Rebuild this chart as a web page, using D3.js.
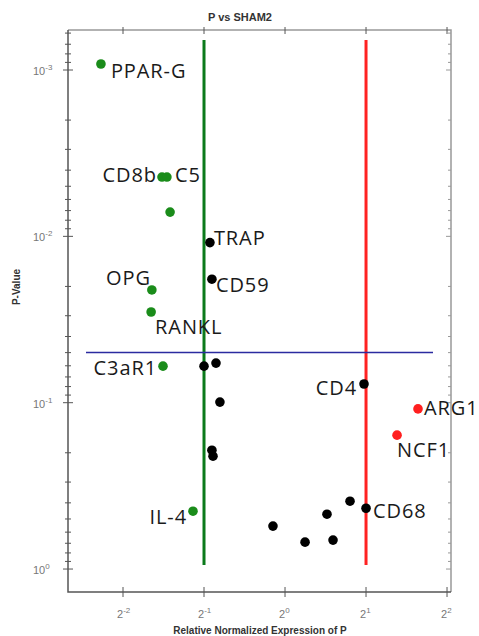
<!DOCTYPE html>
<html>
<head>
<meta charset="utf-8">
<script src="https://cdn.jsdelivr.net/npm/d3@7"></script>
<style>
  body { margin: 0; background: #fff; }
  svg { display: block; }
</style>
</head>
<body>
<svg id="chart" width="479" height="636"></svg>
<script>
// === DATA ===
const genes = ["PPAR-G", "CD8b", "C5", "", "TRAP", "CD59", "OPG", "RANKL", "C3aR1", "", "", "", "", "",
  "CD4", "ARG1", "NCF1", "", "CD68", "IL-4", "", "", "", ""];
const foldChange = [0.207, 0.349, 0.364, 0.374, 0.526, 0.535, 0.320, 0.318, 0.352, 0.500, 0.554, 0.573, 0.535, 0.540,
  1.966, 3.12, 2.608, 1.744, 2.0, 0.455, 1.432, 0.902, 1.508, 1.187];
const pValue = [0.00092, 0.0044, 0.0044, 0.00715, 0.0109, 0.0181, 0.0210, 0.0285, 0.0603, 0.0603, 0.0578, 0.0992, 0.193, 0.2095,
  0.0772, 0.109, 0.1567, 0.391, 0.431, 0.449, 0.468, 0.552, 0.670, 0.689];
const group = ["down", "down", "down", "down", "ns", "ns", "down", "down", "down", "ns", "ns", "ns", "ns", "ns",
  "ns", "up", "up", "ns", "ns", "down", "ns", "ns", "ns", "ns"];

const xTicks = [0.25, 0.5, 1, 2, 4];
const xTickExp = ["-2", "-1", "0", "1", "2"];
const yTicks = [1e-3, 1e-2, 1e-1, 1];
const yTickExp = ["-3", "-2", "-1", "0"];
const thresholds = { down: 0.5, up: 2, p: 0.05 };

// label placement next to each point (dx, dy, anchor)
const labelPos = {
  "PPAR-G": [10, 14, "start"], "CD8b": [-5, 5, "end"], "C5": [8, 5, "start"],
  "TRAP": [4, 2, "start"], "CD59": [4, 13, "start"], "OPG": [-1, -5, "end"],
  "RANKL": [4, 22, "start"], "C3aR1": [-6, 9, "end"], "CD4": [-7, 11, "end"],
  "ARG1": [6, 6, "start"], "NCF1": [0, 22, "start"], "CD68": [7, 10, "start"],
  "IL-4": [-6, 13, "end"]
};
const colors = { down: "#1a8c1a", up: "#ff1f1f", ns: "#000" };

const svg = d3.select("#chart");
const pLeft = 68, pRight = 451, pTop = 30, pBottom = 592;

const x = d3.scaleLog().base(2)
  .domain([Math.pow(2, -2.679), Math.pow(2, 2.049)])
  .range([pLeft, pRight]);
const y = d3.scaleLog()
  .domain([Math.pow(10, -3.2405), Math.pow(10, 0.138)])
  .range([pTop, pBottom]);

// title + axis titles
svg.append("text").attr("x", 240).attr("y", 21).attr("text-anchor", "middle")
  .attr("font-family", "Liberation Sans, Arial, sans-serif").attr("font-weight", "bold")
  .attr("font-size", 11).attr("fill", "#333").text("P vs SHAM2");
svg.append("text").attr("x", 260).attr("y", 634).attr("text-anchor", "middle")
  .attr("font-family", "Liberation Sans, Arial, sans-serif").attr("font-weight", "bold")
  .attr("font-size", 10).attr("fill", "#333").text("Relative Normalized Expression of P");
svg.append("text").attr("transform", "translate(20,287) rotate(-90)").attr("text-anchor", "middle")
  .attr("font-family", "Liberation Sans, Arial, sans-serif").attr("font-weight", "bold")
  .attr("font-size", 10).attr("fill", "#333").text("P-Value");

// frame
const axisCol = "#555";
svg.append("path").attr("d", `M${pLeft},${pTop}H${pRight}V${pBottom}`)
  .attr("fill", "none").attr("stroke", "#999").attr("stroke-width", 1.5);
svg.append("path").attr("d", `M${pLeft},${pTop}V${pBottom}H${pRight}`)
  .attr("fill", "none").attr("stroke", axisCol).attr("stroke-width", 1.5);

// minor y ticks
const yMinor = [];
for (let k = -4; k <= 0; k++) for (let m = 2; m <= 9; m++) {
  const v = m * Math.pow(10, k);
  if (v > y.domain()[0] && v < y.domain()[1]) yMinor.push(v);
}
const tk = svg.append("g").attr("stroke", axisCol).attr("stroke-width", 1);
tk.selectAll("line.ymin").data(yMinor).join("line").attr("class", "ymin")
  .attr("x1", pLeft - 3).attr("x2", pLeft + 3).attr("y1", d => y(d)).attr("y2", d => y(d));
tk.selectAll("line.ymaj").data(yTicks).join("line").attr("class", "ymaj")
  .attr("x1", pLeft - 5).attr("x2", pLeft + 5).attr("y1", d => y(d)).attr("y2", d => y(d));
tk.selectAll("line.ymin2").data(yMinor).join("line").attr("class", "ymin2")
  .attr("stroke", "#999").attr("x1", pRight - 3).attr("x2", pRight).attr("y1", d => y(d)).attr("y2", d => y(d));
tk.selectAll("line.ymaj2").data(yTicks).join("line").attr("class", "ymaj2")
  .attr("stroke", "#999").attr("x1", pRight - 5).attr("x2", pRight).attr("y1", d => y(d)).attr("y2", d => y(d));
tk.selectAll("line.xmaj").data(xTicks).join("line").attr("class", "xmaj")
  .attr("x1", d => x(d)).attr("x2", d => x(d)).attr("y1", pBottom - 5).attr("y2", pBottom + 5);
tk.selectAll("line.xtop").data(xTicks).join("line").attr("class", "xtop")
  .attr("x1", d => x(d)).attr("x2", d => x(d)).attr("y1", pTop - 3).attr("y2", pTop + 4);

// tick labels with superscripts
const tickFont = "Liberation Sans, Arial, sans-serif";
const yl = svg.append("g").attr("font-family", tickFont).attr("fill", "#777").attr("font-size", 11);
yTicks.forEach((v, i) => {
  const t = yl.append("text").attr("x", 33).attr("y", y(v) + 5);
  t.append("tspan").text("10");
  t.append("tspan").attr("dy", -5).attr("font-size", 8).text(yTickExp[i]);
});
const xl = svg.append("g").attr("font-family", tickFont).attr("fill", "#777").attr("font-size", 11);
xTicks.forEach((v, i) => {
  const t = xl.append("text").attr("x", x(v) - 6).attr("y", 618);
  t.append("tspan").text("2");
  t.append("tspan").attr("dy", -5).attr("font-size", 8).text(xTickExp[i]);
});

// threshold lines
svg.append("line").attr("x1", x(thresholds.down)).attr("x2", x(thresholds.down))
  .attr("y1", 40).attr("y2", 565).attr("stroke", "#0b7a1b").attr("stroke-width", 3);
svg.append("line").attr("x1", x(thresholds.up)).attr("x2", x(thresholds.up))
  .attr("y1", 40).attr("y2", 565).attr("stroke", "#ff2222").attr("stroke-width", 3);
svg.append("line").attr("x1", 86).attr("x2", 433)
  .attr("y1", y(thresholds.p)).attr("y2", y(thresholds.p))
  .attr("stroke", "#2b2ba0").attr("stroke-width", 1.5);

// points
const pts = genes.map((g, i) => ({ name: g, fc: foldChange[i], p: pValue[i], grp: group[i] }));
svg.append("g").selectAll("circle").data(pts).join("circle")
  .attr("cx", d => x(d.fc)).attr("cy", d => y(d.p)).attr("r", 4.8)
  .attr("fill", d => colors[d.grp]);

// labels
svg.append("g").attr("font-family", "Open Sans, sans-serif").attr("font-size", 20)
  .attr("fill", "#1a1a1a").attr("letter-spacing", 0.9)
  .selectAll("text").data(pts.filter(d => d.name)).join("text")
  .attr("x", d => x(d.fc) + labelPos[d.name][0])
  .attr("y", d => y(d.p) + labelPos[d.name][1])
  .attr("text-anchor", d => labelPos[d.name][2])
  .text(d => d.name);
</script>
</body>
</html>
